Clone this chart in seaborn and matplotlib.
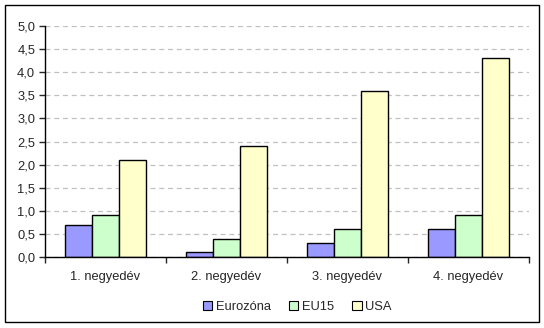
import matplotlib
matplotlib.use("Agg")
import matplotlib.pyplot as plt
from matplotlib.patches import Rectangle
import seaborn as sns
import pandas as pd

quarters = ["1. negyedév", "2. negyedév", "3. negyedév", "4. negyedév"]
series = ["Eurozóna", "EU15", "USA"]
eurozona = [0.7, 0.1, 0.3, 0.6]
eu15 = [0.9, 0.4, 0.6, 0.9]
usa = [2.1, 2.4, 3.6, 4.3]
colors = ["#9999FF", "#CCFFCC", "#FFFFCC"]

df = pd.DataFrame({
    "negyedév": quarters * 3,
    "sorozat": [s for s in series for _ in quarters],
    "érték": eurozona + eu15 + usa,
})

sns.set_style("white")
plt.rcParams["font.family"] = ["Liberation Sans", "DejaVu Sans"]
FS = 9.3

fig = plt.figure(figsize=(5.44, 3.28), dpi=100)
ax = fig.add_axes([45 / 544, 1 - 257 / 328, 484 / 544, 231 / 328])

sns.barplot(data=df, x="negyedév", y="érték", hue="sorozat", order=quarters,
            hue_order=series, palette=colors, width=0.67, edgecolor="black",
            linewidth=1, saturation=1, ax=ax, legend=False, errorbar=None)

ax.set_xlim(-0.5, 3.5)
ax.set_ylim(0, 5)
yt = [i * 0.5 for i in range(11)]
ax.set_yticks(yt)
ax.set_yticklabels([f"{v:.1f}".replace(".", ",") for v in yt], fontsize=FS)
ax.yaxis.grid(True, linestyle=(0, (4, 3)), color="#C0C0C0", linewidth=0.9)
ax.set_axisbelow(True)
ax.tick_params(axis="y", length=4, width=1, direction="out", pad=3, left=True)

ax.set_xticks(range(4))
ax.set_xticklabels(quarters, fontsize=FS)
ax.set_xticks([-0.5, 0.5, 1.5, 2.5, 3.5], minor=True)
ax.tick_params(axis="x", which="major", length=0, pad=10)
ax.tick_params(axis="x", which="minor", length=4, width=1, direction="out", bottom=True)
ax.set_xlabel("")
ax.set_ylabel("")

for side in ["top", "right"]:
    ax.spines[side].set_visible(False)
for side in ["left", "bottom"]:
    ax.spines[side].set_color("black")
    ax.spines[side].set_linewidth(1)

handles = [Rectangle((0, 0), 1, 1, facecolor=c, edgecolor="black", linewidth=0.8)
           for c in colors]
fig.legend(handles, series, loc="center", bbox_to_anchor=(297 / 544, 1 - 307 / 328),
           ncol=3, frameon=False, fontsize=FS, handlelength=0.75, handleheight=0.75,
           handletextpad=0.25, columnspacing=1.4)

fig.patches.append(Rectangle((5 / 544, 1 - 322 / 328), 534 / 544, 317 / 328,
                             transform=fig.transFigure, fill=False,
                             edgecolor="black", linewidth=1))

fig.savefig("out.png", dpi=100)
